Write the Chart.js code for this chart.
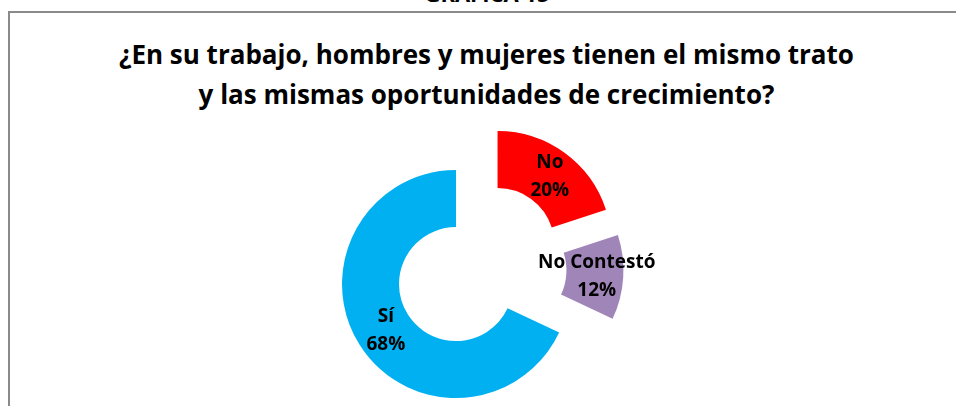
<!DOCTYPE html>
<html>
<head>
<meta charset="utf-8">
<script src="https://cdn.jsdelivr.net/npm/chart.js@4/dist/chart.umd.min.js"></script>
<style>
	html, body { margin: 0; padding: 0; background: #fff; overflow: hidden; }
	#wrap { position: relative; width: 956px; height: 406px; }
	#frame {
		position: absolute; left: 8px; top: 11px; width: 1000px; height: 500px;
		border-left: 2px solid #8a8a8a; border-top: 2px solid #8a8a8a;
	}
	#header {
		position: absolute; left: 0; width: 974px; top: -22px;
		text-align: center; font: bold 22px "Open Sans", sans-serif; color: #000;
	}
	#title {
		position: absolute; left: 0; width: 973px; top: 34px;
		text-align: center; font: bold 26px "Open Sans", sans-serif; line-height: 40px; color: #000;
	}
	canvas { position: absolute; left: 0; top: 0; }
</style>
</head>
<body>
<div id="wrap">
	<div id="frame"></div>
	<div id="header">GRÁFICA 15</div>
	<div id="title">¿En su trabajo, hombres y mujeres tienen el mismo trato<br>y las mismas oportunidades de crecimiento?</div>
	<canvas id="pie" width="956" height="406"></canvas>
</div>
<script>
const categories = ["No", "No Contestó", "Sí"];
const percents = [20, 12, 68];
const sliceColors = ["#ff0000", "#a086b8", "#00b0f0"];

const EXPLODE = 29;

// push every slice out from the centre along its mid angle
const explodePlugin = {
	id: "explode",
	afterDatasetUpdate(chart, args) {
		args.meta.data.forEach((arc) => {
			const mid = (arc.startAngle + arc.endAngle) / 2;
			arc.x += Math.cos(mid) * EXPLODE;
			arc.y += Math.sin(mid) * EXPLODE;
		});
	},
};

const labelPlugin = {
	id: "sliceLabels",
	afterDatasetsDraw(chart) {
		const ctx = chart.ctx;
		const meta = chart.getDatasetMeta(0);
		ctx.save();
		ctx.fillStyle = "#000";
		ctx.font = "bold 19px 'Open Sans', sans-serif";
		ctx.textAlign = "center";
		ctx.textBaseline = "middle";
		meta.data.forEach((arc, i) => {
			const p = arc.tooltipPosition();
			ctx.fillText(categories[i], p.x + 2, p.y - 13);
			ctx.fillText(`${percents[i]}%`, p.x + 2, p.y + 15);
		});
		ctx.restore();
	},
};

new Chart(document.getElementById("pie"), {
	type: "doughnut",
	data: {
		labels: categories,
		datasets: [
			{
				data: percents,
				backgroundColor: sliceColors,
				borderWidth: 0,
			},
		],
	},
	options: {
		responsive: false,
		animation: false,
		events: [],
		cutout: "50%",
		radius: 114,
		layout: { padding: { left: 5, right: 0, top: 131, bottom: 0 } },
		plugins: {
			legend: { display: false },
			tooltip: { enabled: false },
		},
	},
	plugins: [explodePlugin, labelPlugin],
});
</script>
</body>
</html>
